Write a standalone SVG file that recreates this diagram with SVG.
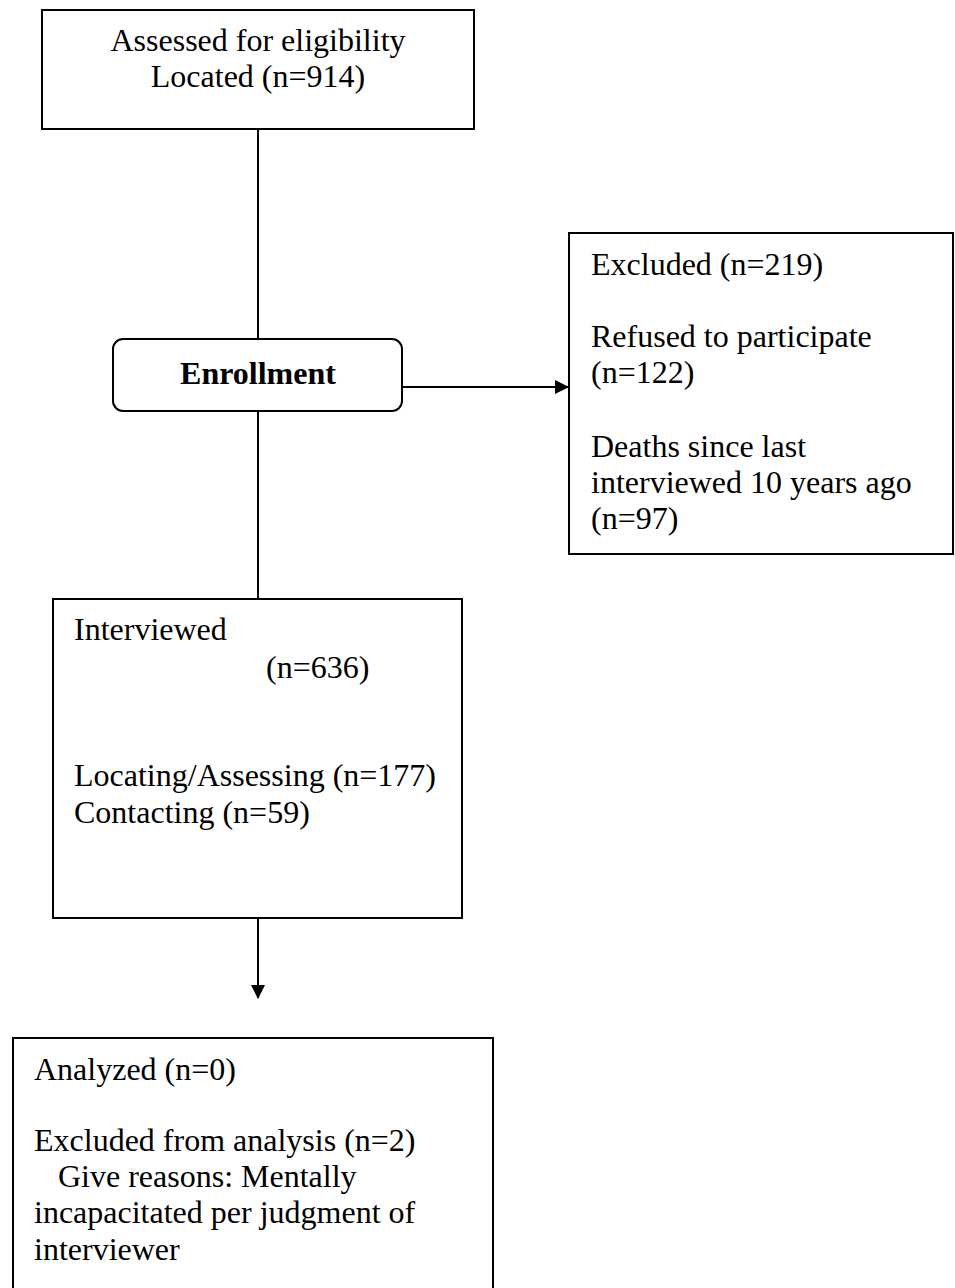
<svg xmlns="http://www.w3.org/2000/svg" width="955" height="1288" viewBox="0 0 955 1288">
<style>
.box{fill:#fff;stroke:#000;stroke-width:2}
.t{font-family:"Liberation Serif","Times New Roman",serif;font-size:32px;fill:#000}
.c{stroke:#000;stroke-width:2;fill:none}
</style>
<defs>
<marker id="ah" markerWidth="14" markerHeight="14" refX="13" refY="7" orient="auto" markerUnits="userSpaceOnUse">
<path d="M0,0 L14,7 L0,14 Z" fill="#000"/>
</marker>
</defs>
<rect width="955" height="1288" fill="#fff"/>
<g id="connectors">
<line class="c" x1="258" y1="129" x2="258" y2="339"/>
<line class="c" x1="258" y1="411" x2="258" y2="599"/>
<line class="c" x1="402" y1="387" x2="568" y2="387" marker-end="url(#ah)"/>
<line class="c" x1="258" y1="918" x2="258" y2="998" marker-end="url(#ah)"/>
</g>
<g id="assessed">
<rect class="box" x="42" y="10" width="432" height="119"/>
<text class="t" x="258" y="51" text-anchor="middle">Assessed for eligibility</text>
<text class="t" x="258" y="87" text-anchor="middle">Located (n=914)</text>
</g>
<g id="enrollment">
<rect class="box" x="113" y="339" width="289" height="72" rx="10" ry="10"/>
<text class="t" x="258" y="384" text-anchor="middle" font-weight="bold">Enrollment</text>
</g>
<g id="excluded">
<rect class="box" x="569" y="233" width="384" height="321"/>
<text class="t" x="591" y="275">Excluded (n=219)</text>
<text class="t" x="591" y="347">Refused to participate</text>
<text class="t" x="591" y="383">(n=122)</text>
<text class="t" x="591" y="457">Deaths since last</text>
<text class="t" x="591" y="493">interviewed 10 years ago</text>
<text class="t" x="591" y="529">(n=97)</text>
</g>
<g id="interviewed">
<rect class="box" x="53" y="599" width="409" height="319"/>
<text class="t" x="74" y="640">Interviewed</text>
<text class="t" x="266" y="678">(n=636)</text>
<text class="t" x="74" y="786">Locating/Assessing (n=177)</text>
<text class="t" x="74" y="823">Contacting (n=59)</text>
</g>
<g id="analyzed">
<rect class="box" x="13" y="1038" width="480" height="270"/>
<text class="t" x="34" y="1080">Analyzed (n=0)</text>
<text class="t" x="34" y="1151">Excluded from analysis (n=2)</text>
<text class="t" x="34" y="1187" xml:space="preserve">   Give reasons: Mentally</text>
<text class="t" x="34" y="1223">incapacitated per judgment of</text>
<text class="t" x="34" y="1260">interviewer</text>
</g>
</svg>
